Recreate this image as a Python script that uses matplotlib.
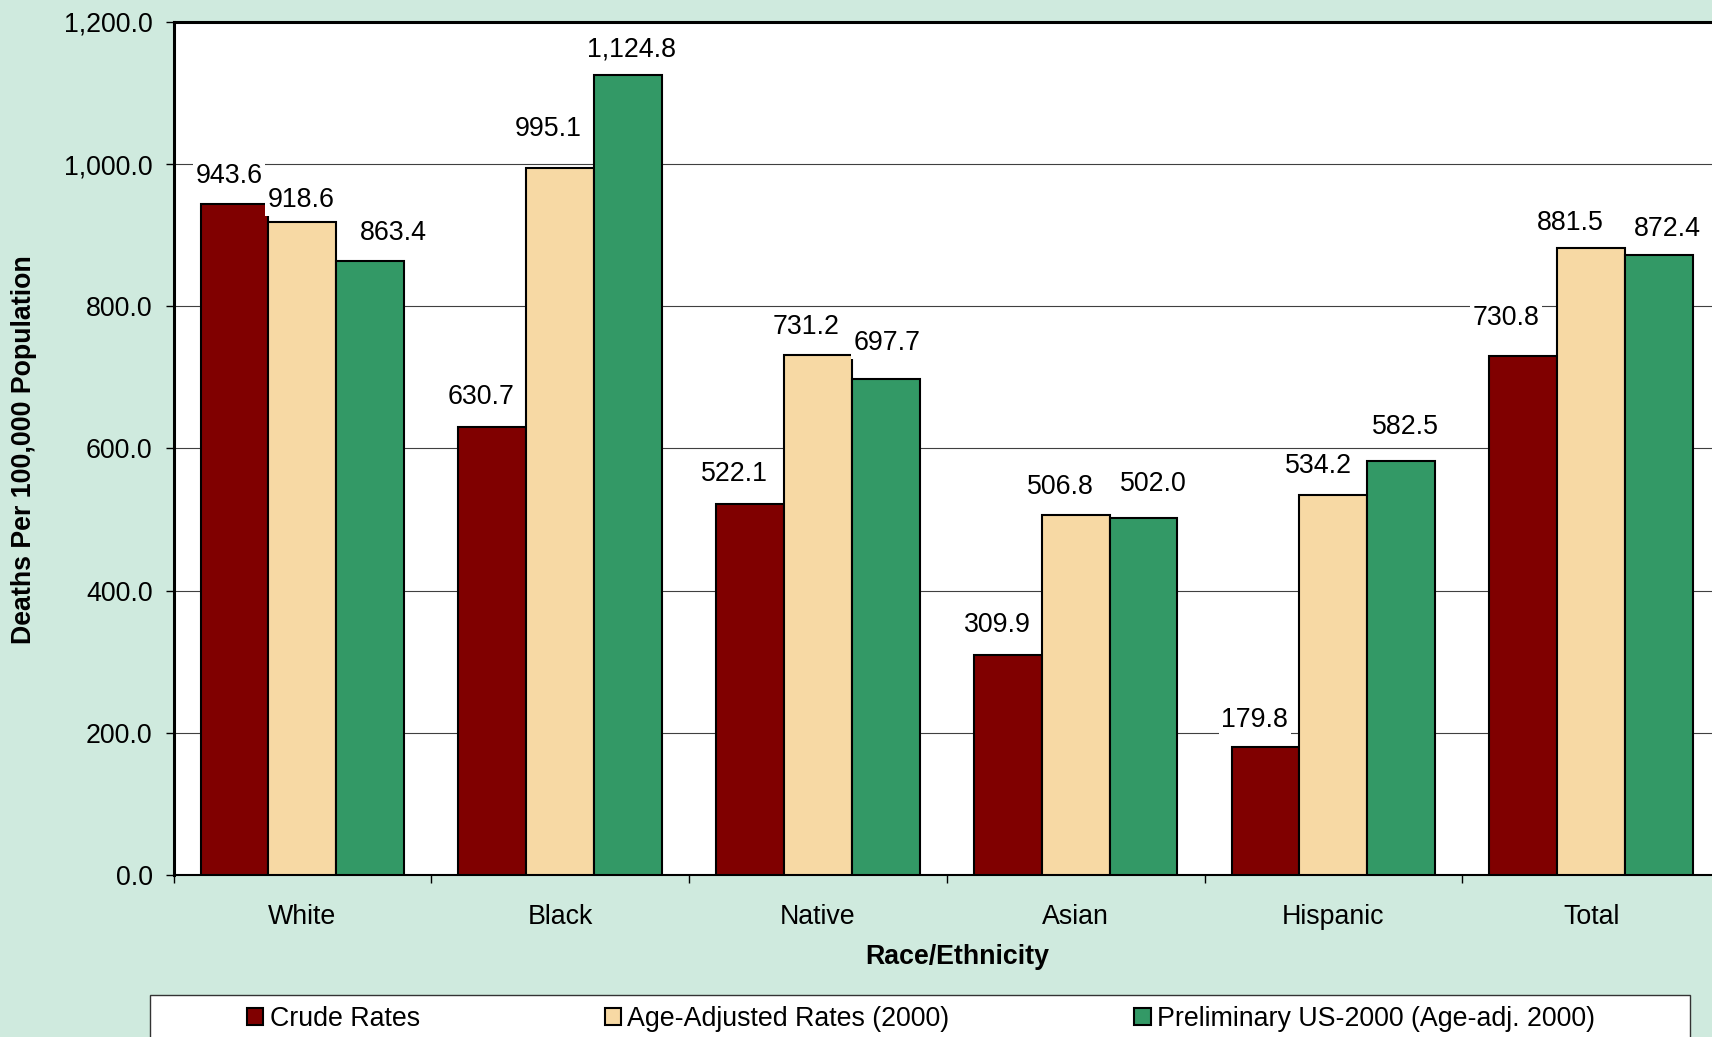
import matplotlib
matplotlib.use("Agg")
import matplotlib.pyplot as plt
from matplotlib.patches import Patch, Rectangle
import numpy as np

# ---- data ----
categories = ["White", "Black", "Native", "Asian", "Hispanic", "Total"]
crude_rates = [943.6, 630.7, 522.1, 309.9, 179.8, 730.8]
age_adjusted = [918.6, 995.1, 731.2, 506.8, 534.2, 881.5]
preliminary = [863.4, 1124.8, 697.7, 502.0, 582.5, 872.4]
series_names = ["Crude Rates", "Age-Adjusted Rates (2000)",
                "Preliminary US-2000 (Age-adj. 2000)"]
y_ticks = [0, 200, 400, 600, 800, 1000, 1200]

# label placement tweaks (pixels, reference-scale)
label_dx = [[-5, -10, -14, -10, -10, -16],
            [-1, -11, -11, -14, -14, -19],
            [21, 3, 1, 9, 4, 8]]
label_dy = [[26, 27, 27, 27, 25, 34],
            [20, 35, 26, 25, 27, 23],
            [26, 24, 33, 31, 31, 24]]

colors = ["#800000", "#F7D9A4", "#339966"]
bg = "#CFEADE"
FS = 19.3
plt.rcParams["font.family"] = ["Liberation Sans", "DejaVu Sans"]

W, H = 1712, 1037
fig = plt.figure(figsize=(W / 100, H / 100), dpi=100, facecolor=bg)
left, right, top, bottom = 173.5, 1720, 22, 875
ax = fig.add_axes([left / W, 1 - bottom / H, (right - left) / W, (bottom - top) / H])
ax.set_facecolor("white")

n = len(categories)
x = np.arange(n) + 0.5
bw = 0.263
series = [crude_rates, age_adjusted, preliminary]
s = 1.0918
for j, vals in enumerate(series):
    xs = x + (j - 1) * bw
    ax.bar(xs, vals, width=bw, color=colors[j], edgecolor="black",
           linewidth=1.5, zorder=3)
    for i, v in enumerate(vals):
        ax.annotate(f"{v:,.1f}", xy=(xs[i], v),
                    xytext=(label_dx[j][i] * s, label_dy[j][i] * s),
                    textcoords="offset pixels", ha="center", va="center",
                    fontsize=FS, zorder=4,
                    bbox=dict(boxstyle="square,pad=0.1", fc="white", ec="none"))

ax.set_xlim(0, n)
ax.set_ylim(0, 1200)
ax.set_yticks(y_ticks)
ax.set_yticklabels([f"{t:,.1f}" for t in y_ticks], fontsize=FS)
ax.yaxis.grid(True, color="#404040", linewidth=0.8, zorder=0)
ax.set_axisbelow(True)

ax.set_xticks(np.arange(n + 1))
ax.set_xticklabels([])
ax.set_xticks(x, minor=True)
ax.set_xticklabels(categories, minor=True, fontsize=FS)
ax.tick_params(axis="x", which="major", length=6, width=1, direction="out")
ax.tick_params(axis="x", which="minor", length=0, pad=21)
ax.tick_params(axis="y", length=6, width=1, direction="out", pad=9)

for sp in ["left", "top"]:
    ax.spines[sp].set_linewidth(2.2)
ax.spines["bottom"].set_linewidth(1.5)
ax.spines["right"].set_visible(False)

fig.text(957 / W, 1 - 957 / H, "Race/Ethnicity", ha="center", va="center",
         fontsize=FS, fontweight="bold")
fig.text(24 / W, 1 - 450 / H, "Deaths Per 100,000 Population", ha="center",
         va="center", rotation=90, fontsize=FS, fontweight="bold")

# legend frame
fig.add_artist(Rectangle((150 / W, -0.02), (1690 - 150) / W, (1037 - 995) / H + 0.02,
                         transform=fig.transFigure, facecolor="white",
                         edgecolor="#333333", linewidth=1.0, zorder=1))
handles = [Patch(facecolor=c, edgecolor="black", linewidth=1.5) for c in colors]
leg = fig.legend(handles, series_names, ncol=3, loc="center",
                 bbox_to_anchor=(921 / W, 1 - 1019 / H), frameon=False,
                 fontsize=FS, handlelength=0.6, handleheight=0.6,
                 handletextpad=0.25, columnspacing=6.9, borderpad=0,
                 borderaxespad=0)
leg.set_zorder(2)

fig.savefig("out.png", dpi=100, facecolor=bg)
